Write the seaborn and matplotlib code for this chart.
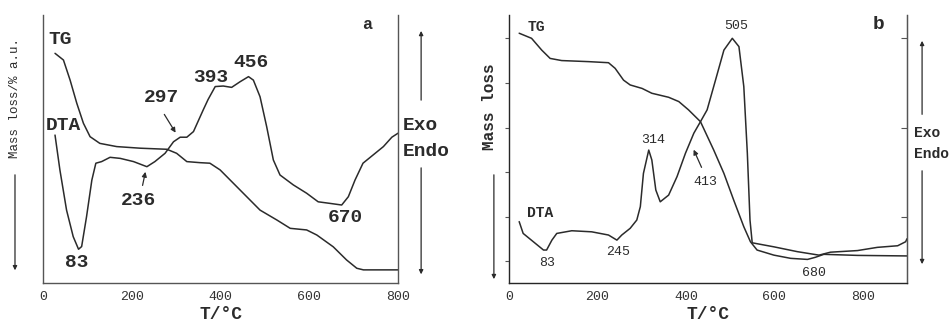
import matplotlib
matplotlib.use("Agg")
import matplotlib.pyplot as plt
import seaborn as sns
import numpy as np

# panel a : TG / DTA (0-800 C)
tg_a_T = [27, 46, 61, 76, 91, 106, 128, 166, 219, 279, 301, 324, 354, 376, 399, 429, 459,
          489, 527, 557, 594, 617, 654, 684, 707, 722, 800]
tg_a_mass = [85.7, 83.2, 75.7, 67.1, 59.6, 54.6, 52.1, 50.9, 50.3, 49.9, 48.4, 45.3, 44.9,
             44.7, 42.2, 37.2, 32.2, 27.2, 23.5, 20.4, 19.8, 17.9, 13.5, 8.6, 5.5, 4.9, 4.9]

dta_a_T = [27, 38, 53, 68, 80, 87, 98, 110, 119, 132, 151, 174, 204, 234, 252, 275, 294,
           309, 324, 339, 361, 372, 388, 406, 425, 444, 463, 474, 489, 504, 519, 534, 564,
           594, 620, 647, 673, 688, 703, 721, 744, 767, 786, 800]
dta_a_signal = [55.2, 42.2, 27.2, 17.3, 12.6, 13.6, 24.7, 38.4, 44.7, 45.3, 46.9, 46.5, 45.3,
                43.4, 45.3, 48.4, 52.7, 54.4, 54.4, 56.5, 64.6, 68.5, 73.3, 73.5, 73.0, 75.1,
                77.0, 75.7, 69.5, 58.3, 45.9, 40.3, 36.6, 33.5, 30.3, 29.7, 29.1, 32.2, 38.4,
                44.7, 47.8, 50.9, 54.4, 55.9]

# panel b : TG / DTA (0-900 C)
tg_b_T = [23, 51, 74, 93, 119, 180, 225, 240, 259, 274, 301, 323, 361, 384, 406, 433, 463,
          486, 508, 531, 546, 561, 599, 637, 675, 693, 712, 788, 900]
tg_b_mass = [93.2, 91.3, 86.9, 83.8, 83.0, 82.6, 82.2, 80.1, 75.7, 73.9, 72.6, 70.8, 69.3,
             67.7, 64.6, 60.2, 49.6, 40.9, 31.0, 21.0, 15.4, 12.3, 10.4, 9.2, 8.8, 9.6, 10.7,
             10.3, 10.1]

dta_b_T = [23, 32, 55, 78, 85, 97, 108, 142, 187, 225, 244, 255, 274, 289, 297, 304, 316,
           323, 332, 342, 361, 380, 399, 418, 433, 448, 467, 486, 505, 520, 531, 539, 545,
           550, 599, 652, 701, 727, 788, 833, 879, 897, 900]
dta_b_signal = [22.9, 18.5, 15.4, 12.3, 12.3, 16.0, 18.5, 19.5, 19.1, 17.9, 16.0, 17.9, 20.4,
                23.5, 28.5, 40.9, 49.6, 45.9, 34.7, 30.3, 32.8, 39.7, 48.4, 55.9, 60.2, 64.6,
                75.7, 86.9, 91.3, 88.2, 73.3, 48.4, 23.5, 15.0, 13.5, 11.7, 10.4, 11.5, 12.1,
                13.3, 13.9, 15.4, 16.5]

sns.set_style("white")
plt.rcParams['font.family'] = ['Liberation Mono', 'DejaVu Sans']

ink = "#2b2b2b"
fig = plt.figure(figsize=(9.5, 3.29), dpi=100)
ax_a = fig.add_axes([0.0453, 0.1398, 0.3737, 0.8146])
ax_b = fig.add_axes([0.5358, 0.1398, 0.4189, 0.8146])

line_kw = dict(color=ink, lw=1.1, sort=False, estimator=None,
               solid_joinstyle='round', solid_capstyle='round')
sns.lineplot(x=tg_a_T, y=tg_a_mass, ax=ax_a, **line_kw)
sns.lineplot(x=dta_a_T, y=dta_a_signal, ax=ax_a, **line_kw)
sns.lineplot(x=tg_b_T, y=tg_b_mass, ax=ax_b, **line_kw)
sns.lineplot(x=dta_b_T, y=dta_b_signal, ax=ax_b, **line_kw)

for ax, xmax in [(ax_a, 800), (ax_b, 900)]:
    ax.set_xlim(0, xmax)
    ax.set_ylim(0, 100)
    ax.spines['top'].set_visible(False)
    for s in ['left', 'right', 'bottom']:
        ax.spines[s].set_color("#555555")
        ax.spines[s].set_linewidth(1.0)
    ax.set_xticks([0, 200, 400, 600, 800])
    ax.set_xticks(np.arange(0, xmax + 1, 100), minor=True)
    ax.tick_params(axis='x', which='both', direction='in', length=3, color="#555555",
                   labelsize=9.5, pad=6, labelcolor="#333333")
    ax.set_xlabel("T/°C", fontsize=13, fontweight='bold', labelpad=2, color=ink)
    ax.set_ylabel("")

ax_a.set_yticks([40.2, 90.0])
ax_a.set_yticklabels([])
ax_a.tick_params(axis='y', direction='out', length=3, color="#555555")

ax_b.set_yticks([8.3, 24.8, 41.6, 58.0, 74.8, 91.3])
ax_b.set_yticklabels([])
ax_b.tick_params(axis='y', direction='out', length=3, color="#555555")
ax_r = ax_b.twinx()
ax_r.set_ylim(0, 100)
ax_r.set_yticks([24.8, 58.0, 91.3])
ax_r.set_yticklabels([])
ax_r.tick_params(axis='y', direction='in', length=4, color="#555555")
ax_r.spines['top'].set_visible(False)
ax_r.spines['right'].set_color("#555555")

big = dict(fontsize=14, fontweight='bold', color=ink, va='center')
ax_a.text(11, 91, "TG", ha='left', **big)
ax_a.text(7, 58.6, "DTA", ha='left', **big)
ax_a.text(730, 96.6, "a", ha='center', fontsize=12, fontweight='bold', color=ink, va='center')
for lab, tx, ty in [("83", 77, 7.5), ("236", 216, 30.6), ("297", 266, 69.4),
                    ("393", 379, 76.5), ("456", 469, 82.1), ("670", 681, 24.3)]:
    ax_a.text(tx, ty, lab, ha='center', **big)
ax_a.text(811, 58.6, "Exo", ha='left', clip_on=False, **big)
ax_a.text(811, 48.9, "Endo", ha='left', clip_on=False, **big)
arr = dict(arrowstyle='-|>', color=ink, lw=0.9, mutation_scale=7)
ax_a.annotate("", xy=(232, 42.5), xytext=(223, 35.4), arrowprops=arr)
ax_a.annotate("", xy=(302, 55.2), xytext=(270, 63.8), arrowprops=arr)
ax_a.text(-0.079, 0.69, "Mass loss/% a.u.", transform=ax_a.transAxes, rotation=90,
          ha='center', va='center', fontsize=9, color=ink)

small = dict(fontsize=9.5, color=ink, va='center', ha='center')
ax_b.text(43, 95.5, "TG", ha='left', fontsize=10.5, fontweight='bold', color=ink, va='center')
ax_b.text(41, 26.1, "DTA", ha='left', fontsize=10.5, fontweight='bold', color=ink, va='center')
ax_b.text(835, 96.3, "b", ha='center', fontsize=14, fontweight='bold', color=ink, va='center')
for lab, tx, ty in [("505", 513, 95.9), ("314", 325, 53.4), ("413", 445, 37.7),
                    ("83", 86, 7.5), ("245", 247, 11.6), ("680", 690, 3.7)]:
    ax_b.text(tx, ty, lab, **small)
ax_b.annotate("", xy=(415, 50.7), xytext=(438, 42.2), arrowprops=arr)
ax_b.text(915, 56, "Exo", ha='left', fontsize=10.5, fontweight='bold', color=ink,
          va='center', clip_on=False)
ax_b.text(915, 48.1, "Endo", ha='left', fontsize=10.5, fontweight='bold', color=ink,
          va='center', clip_on=False)
ax_b.text(-0.048, 0.657, "Mass loss", transform=ax_b.transAxes, rotation=90,
          ha='center', va='center', fontsize=11.5, fontweight='bold', color=ink)

# Exo / Endo and mass-loss direction arrows
side = dict(arrowstyle='-|>', color=ink, lw=0.9, mutation_scale=6)
for ax, xl, yl0, yl1, xr, up0, up1, dn0, dn1 in [
        (ax_a, -0.079, 0.414, 0.037, 1.065, 0.672, 0.951, 0.440, 0.022),
        (ax_b, -0.038, 0.414, 0.004, 1.038, 0.619, 0.914, 0.429, 0.060)]:
    ax.annotate("", xy=(xl, yl1), xytext=(xl, yl0), xycoords='axes fraction',
                textcoords='axes fraction', arrowprops=side, annotation_clip=False)
    ax.annotate("", xy=(xr, up1), xytext=(xr, up0), xycoords='axes fraction',
                textcoords='axes fraction', arrowprops=side, annotation_clip=False)
    ax.annotate("", xy=(xr, dn1), xytext=(xr, dn0), xycoords='axes fraction',
                textcoords='axes fraction', arrowprops=side, annotation_clip=False)

fig.savefig("out.png", dpi=100)
